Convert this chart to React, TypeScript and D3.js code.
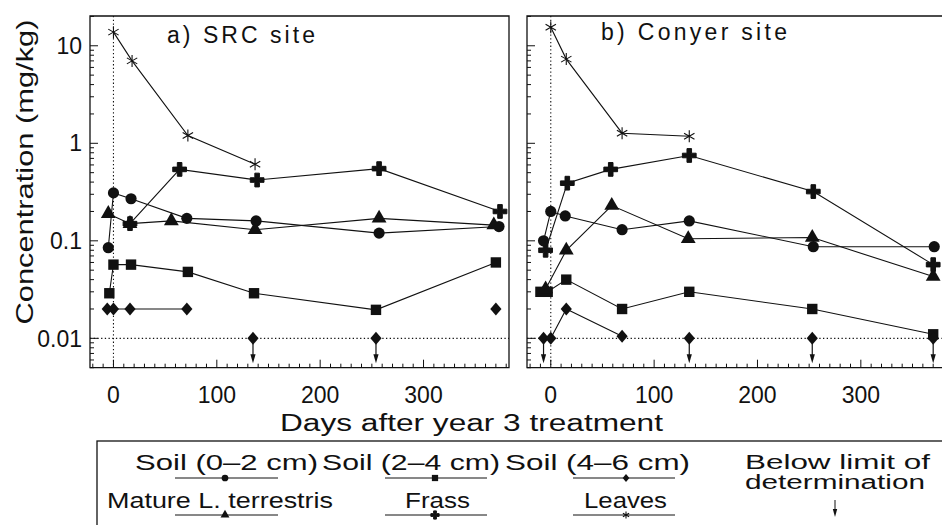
import React from 'react';
import * as d3 from 'd3';

// ---------- DATA ----------
// a) SRC site
const SRC_SOIL02_DAYS = [-5, 0, 17, 71, 138, 257, 373];
const SRC_SOIL02 = [0.085, 0.31, 0.27, 0.17, 0.16, 0.12, 0.14];
const SRC_SOIL24_DAYS = [-4, 0, 17, 72, 136, 254, 370];
const SRC_SOIL24 = [0.029, 0.057, 0.057, 0.048, 0.029, 0.0196, 0.06];
const SRC_SOIL46_DAYS = [-6, 0, 16, 71, 135, 254, 370];
const SRC_SOIL46 = [0.02, 0.02, 0.02, 0.02, 0.01, 0.01, 0.02];
const SRC_SOIL46_BDL = [false, false, false, false, true, true, false];
const SRC_WORM_DAYS = [-5, 16, 56, 137, 257, 368];
const SRC_WORM = [0.19, 0.15, 0.16, 0.13, 0.17, 0.145];
const SRC_FRASS_DAYS = [16, 64, 139, 257, 374];
const SRC_FRASS = [0.15, 0.54, 0.42, 0.55, 0.2];
const SRC_LEAVES_DAYS = [0, 18, 72, 137];
const SRC_LEAVES = [13.8, 7.0, 1.2, 0.61];

// b) Conyer site
const CON_SOIL02_DAYS = [-7, 0, 14, 69, 134, 254, 371];
const CON_SOIL02 = [0.1, 0.2, 0.18, 0.13, 0.16, 0.087, 0.087];
const CON_SOIL24_DAYS = [-10, -3, 15, 69, 134, 253, 370];
const CON_SOIL24 = [0.03, 0.03, 0.04, 0.02, 0.03, 0.02, 0.011];
const CON_SOIL46_DAYS = [-7, 0, 15, 69, 134, 253, 370];
const CON_SOIL46 = [0.01, 0.01, 0.02, 0.0105, 0.01, 0.01, 0.01];
const CON_SOIL46_BDL = [true, false, false, false, true, true, true];
const CON_WORM_DAYS = [-5, 15, 59, 133, 253, 370];
const CON_WORM = [0.032, 0.08, 0.23, 0.105, 0.108, 0.043];
const CON_FRASS_DAYS = [-5, 16, 58, 134, 254, 370];
const CON_FRASS = [0.08, 0.39, 0.54, 0.75, 0.32, 0.057];
const CON_LEAVES_DAYS = [0, 15, 69, 134];
const CON_LEAVES = [15.5, 7.3, 1.27, 1.18];

const X_TICKS = [0, 100, 200, 300];
const Y_TICK_LABELS = [
  { v: 10, t: '10' },
  { v: 1, t: '1' },
  { v: 0.1, t: '0.1' },
  { v: 0.01, t: '0.01' },
];
const DETECTION_LIMIT = 0.01;

const PANEL_TITLES = ['a)  SRC site', 'b)  Conyer site'];
const X_TITLE = 'Days after year 3 treatment';
const Y_TITLE = 'Concentration (mg/kg)';

const LEGEND_ROW1 = ['Soil (0–2 cm)', 'Soil (2–4 cm)', 'Soil (4–6 cm)'];
const LEGEND_ROW2 = ['Mature L. terrestris', 'Frass', 'Leaves'];
const LEGEND_BDL = ['Below limit of', 'determination'];

// ---------- helpers ----------
type Kind = 'circle' | 'square' | 'diamond' | 'triangle' | 'cross' | 'star';
type Pt = { d: number; v: number; bdl: boolean };
const mk = (days: number[], vals: number[], bdl?: boolean[]): Pt[] =>
  days.map((d, i) => ({ d, v: vals[i], bdl: bdl ? bdl[i] : false }));

type Series = { kind: Kind; pts: Pt[] };

const SRC_SERIES: Series[] = [
  { kind: 'star', pts: mk(SRC_LEAVES_DAYS, SRC_LEAVES) },
  { kind: 'cross', pts: mk(SRC_FRASS_DAYS, SRC_FRASS) },
  { kind: 'circle', pts: mk(SRC_SOIL02_DAYS, SRC_SOIL02) },
  { kind: 'triangle', pts: mk(SRC_WORM_DAYS, SRC_WORM) },
  { kind: 'square', pts: mk(SRC_SOIL24_DAYS, SRC_SOIL24) },
  { kind: 'diamond', pts: mk(SRC_SOIL46_DAYS, SRC_SOIL46, SRC_SOIL46_BDL) },
];
const CON_SERIES: Series[] = [
  { kind: 'star', pts: mk(CON_LEAVES_DAYS, CON_LEAVES) },
  { kind: 'cross', pts: mk(CON_FRASS_DAYS, CON_FRASS) },
  { kind: 'circle', pts: mk(CON_SOIL02_DAYS, CON_SOIL02) },
  { kind: 'triangle', pts: mk(CON_WORM_DAYS, CON_WORM) },
  { kind: 'square', pts: mk(CON_SOIL24_DAYS, CON_SOIL24) },
  { kind: 'diamond', pts: mk(CON_SOIL46_DAYS, CON_SOIL46, CON_SOIL46_BDL) },
];

const FONT = "'Liberation Sans', Arial, sans-serif";
const INK = '#111';

function Marker({ kind, x, y, s = 1 }: { kind: Kind; x: number; y: number; s?: number }) {
  const t = `translate(${x},${y})`;
  switch (kind) {
    case 'circle':
      return <circle cx={x} cy={y} r={5.6 * s} fill={INK} />;
    case 'square':
      return <rect x={x - 5.2 * s} y={y - 5.2 * s} width={10.4 * s} height={10.4 * s} fill={INK} />;
    case 'diamond':
      return (
        <path transform={t} d={`M0,${-6.5 * s}L${5.6 * s},0L0,${6.5 * s}L${-5.6 * s},0Z`} fill={INK} />
      );
    case 'triangle':
      return (
        <path transform={t} d={d3.symbol(d3.symbolTriangle, 95 * s * s)() || ''} fill={INK} />
      );
    case 'cross':
      return (
        <path
          transform={t}
          d={d3.symbol(d3.symbolCross, 105 * s * s)() || ''}
          fill={INK}
          stroke={INK}
          strokeWidth={1}
          strokeLinejoin="round"
        />
      );
    case 'star': {
      const r = 6 * s;
      const a = [90, 30, 150].map((deg) => (deg * Math.PI) / 180);
      const d = a
        .map((ang) => `M${-r * Math.cos(ang)},${-r * Math.sin(ang)}L${r * Math.cos(ang)},${r * Math.sin(ang)}`)
        .join('');
      return <path transform={t} d={d} stroke={INK} strokeWidth={1.1} fill="none" />;
    }
  }
  return null;
}

const yScale = d3.scaleLog().domain([0.005, 20.2]).range([367.7, 16]);

type PanelProps = {
  x0: number;
  x1: number;
  domain: [number, number];
  series: Series[];
  title: string;
  titleX: number;
  titleY: number;
  titleLen: number;
  yLabels: boolean;
};

function Panel({ x0, x1, domain, series, title, titleX, titleY, titleLen, yLabels }: PanelProps) {
  const x = d3.scaleLinear().domain(domain).range([x0, x1]);
  const [yTop, yBot] = [16, 367.7];
  const line = d3
    .line<Pt>()
    .defined((p) => !p.bdl)
    .x((p) => x(p.d))
    .y((p) => yScale(p.v));

  const yTicks: { v: number; major: boolean }[] = [];
  for (let k = -3; k <= 1; k++) {
    for (let m = 1; m <= 9; m++) {
      const v = m * Math.pow(10, k);
      if (v >= 0.005 && v <= 20.2) yTicks.push({ v, major: m === 1 });
    }
  }
  const xMinor = d3.range(-20, 390, 10);

  const order: Kind[] = ['star', 'cross', 'circle', 'square', 'diamond', 'triangle'];
  const sorted = order.map((k) => series.find((s) => s.kind === k)!).filter(Boolean);

  return (
    <g>
      <path
        d={`M${x0},${yTop}L${x1},${yTop}L${x1},${yBot}L${x0},${yBot}Z`}
        fill="none"
        stroke={INK}
        strokeWidth={1.3}
      />
      {yTicks.map((t, i) => (
        <line
          key={'yt' + i}
          x1={x0}
          x2={x0 + (t.major ? 8 : 4)}
          y1={yScale(t.v)}
          y2={yScale(t.v)}
          stroke={INK}
          strokeWidth={1}
        />
      ))}
      {xMinor.map((d) => (
        <line
          key={'xt' + d}
          x1={x(d)}
          x2={x(d)}
          y1={yBot}
          y2={yBot - (d % 100 === 0 ? 8 : 4)}
          stroke={INK}
          strokeWidth={1}
        />
      ))}
      {X_TICKS.map((d) => (
        <text
          key={'xl' + d}
          x={x(d)}
          y={403}
          textAnchor="middle"
          fontFamily={FONT}
          fontSize={23}
          fill={INK}
        >
          {d}
        </text>
      ))}
      {yLabels &&
        Y_TICK_LABELS.map((t) => (
          <text
            key={'yl' + t.t}
            x={82}
            y={yScale(t.v) + 8.2}
            textAnchor="end"
            fontFamily={FONT}
            fontSize={23}
            fill={INK}
          >
            {t.t}
          </text>
        ))}
      <line
        x1={x(0)}
        x2={x(0)}
        y1={yTop}
        y2={yBot}
        stroke={INK}
        strokeWidth={1.1}
        strokeDasharray="1.3 2.4"
      />
      <line
        x1={x0}
        x2={x1}
        y1={yScale(DETECTION_LIMIT)}
        y2={yScale(DETECTION_LIMIT)}
        stroke={INK}
        strokeWidth={1.1}
        strokeDasharray="1.3 2.4"
      />
      <text x={titleX} y={titleY} fontFamily={FONT} fontSize={23} fill={INK} textLength={titleLen}>
        {title}
      </text>
      {sorted.map((s) => (
        <path key={'l' + s.kind} d={line(s.pts) || ''} fill="none" stroke={INK} strokeWidth={1.1} />
      ))}
      {sorted.map((s) =>
        s.pts
          .filter((p) => p.bdl)
          .map((p, i) => {
            const px = x(p.d);
            const py = yScale(p.v);
            return (
              <g key={'ar' + s.kind + i}>
                <line x1={px} x2={px} y1={py} y2={py + 20} stroke={INK} strokeWidth={1.2} />
                <path d={`M${px - 2.6},${py + 16}L${px + 2.6},${py + 16}L${px},${py + 25}Z`} fill={INK} />
              </g>
            );
          })
      )}
      {sorted.map((s) =>
        s.pts.map((p, i) => <Marker key={'m' + s.kind + i} kind={s.kind} x={x(p.d)} y={yScale(p.v)} />)
      )}
    </g>
  );
}

function Legend() {
  const row1Text = [
    { x: 135, len: 183 },
    { x: 322, len: 178 },
    { x: 505, len: 185 },
  ];
  const row2Text = [
    { x: 107, len: 226 },
    { x: 405, len: 65 },
    { x: 584, len: 83 },
  ];
  const lines = [
    { x1: 175, x2: 278, m: 225 },
    { x1: 385, x2: 487, m: 435 },
    { x1: 573, x2: 675, m: 626 },
  ];
  const row1Kinds: Kind[] = ['circle', 'square', 'diamond'];
  const row2Kinds: Kind[] = ['triangle', 'cross', 'star'];
  return (
    <g>
      <rect x={97} y={441} width={900} height={120} fill="none" stroke={INK} strokeWidth={1.3} />
      {LEGEND_ROW1.map((t, i) => (
        <text
          key={'r1' + i}
          x={row1Text[i].x}
          y={470}
          fontFamily={FONT}
          fontSize={22}
          fill={INK}
          textLength={row1Text[i].len}
          lengthAdjust="spacingAndGlyphs"
        >
          {t}
        </text>
      ))}
      {LEGEND_ROW2.map((t, i) => (
        <text
          key={'r2' + i}
          x={row2Text[i].x}
          y={508}
          fontFamily={FONT}
          fontSize={22}
          fill={INK}
          textLength={row2Text[i].len}
          lengthAdjust="spacingAndGlyphs"
        >
          {t}
        </text>
      ))}
      {lines.map((l, i) => (
        <g key={'lg' + i}>
          <line x1={l.x1} x2={l.x2} y1={478} y2={478} stroke={INK} strokeWidth={1} />
          <Marker kind={row1Kinds[i]} x={l.m} y={478} s={0.6} />
          <line x1={l.x1} x2={l.x2} y1={515} y2={515} stroke={INK} strokeWidth={1} />
          <Marker kind={row2Kinds[i]} x={l.m} y={515} s={0.6} />
        </g>
      ))}
      <text x={745} y={469} fontFamily={FONT} fontSize={20} fill={INK} textLength={185} lengthAdjust="spacingAndGlyphs">
        {LEGEND_BDL[0]}
      </text>
      <text x={745} y={489} fontFamily={FONT} fontSize={20} fill={INK} textLength={180} lengthAdjust="spacingAndGlyphs">
        {LEGEND_BDL[1]}
      </text>
      <line x1={835} x2={835} y1={500} y2={512} stroke={INK} strokeWidth={1} />
      <path d="M832.8,509L837.2,509L835,517Z" fill={INK} />
    </g>
  );
}

export default function App() {
  return (
    <svg
      width={942}
      height={525}
      viewBox="0 0 942 525"
      style={{ position: 'absolute', left: 0, top: 0, background: '#fff' }}
    >
      <rect x={0} y={0} width={942} height={525} fill="#fff" />
      <Panel
        x0={90}
        x1={509}
        domain={[-22.7, 382.7]}
        series={SRC_SERIES}
        title={PANEL_TITLES[0]}
        titleX={167}
        titleY={43}
        titleLen={148}
        yLabels={true}
      />
      <Panel
        x0={527}
        x1={946}
        domain={[-23, 382.4]}
        series={CON_SERIES}
        title={PANEL_TITLES[1]}
        titleX={601}
        titleY={40}
        titleLen={186}
        yLabels={false}
      />
      <text
        transform="translate(33,172) rotate(-90)"
        textAnchor="middle"
        fontFamily={FONT}
        fontSize={24}
        fill={INK}
        textLength={305}
        lengthAdjust="spacingAndGlyphs"
      >
        {Y_TITLE}
      </text>
      <text
        x={280}
        y={431}
        fontFamily={FONT}
        fontSize={23}
        fill={INK}
        textLength={383}
        lengthAdjust="spacingAndGlyphs"
      >
        {X_TITLE}
      </text>
      <Legend />
    </svg>
  );
}
